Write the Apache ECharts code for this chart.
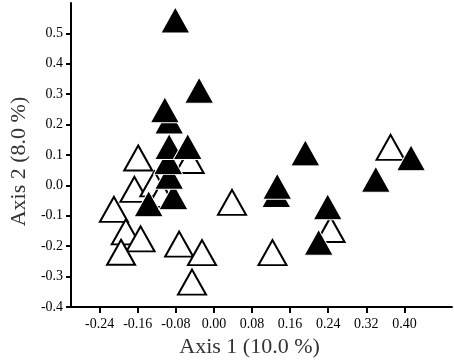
<!DOCTYPE html>
<html>
<head>
<meta charset="utf-8">
<script src="https://cdn.jsdelivr.net/npm/echarts@6/dist/echarts.min.js"></script>
<style>
  html, body { margin: 0; padding: 0; background: #fff; }
  #chart { width: 454px; height: 363px; }
</style>
</head>
<body>
<div id="chart"></div>
<script>
// tick positions shown on the axes
const xTicks = [-0.24, -0.16, -0.08, 0.0, 0.08, 0.16, 0.24, 0.32, 0.4]
const yTicks = [-0.4, -0.3, -0.2, -0.1, 0.0, 0.1, 0.2, 0.3, 0.4, 0.5]

// open triangles [axis1, axis2]
const openPts = [
  [-0.159, 0.09], [-0.167, -0.013], [-0.21, -0.079], [-0.185, -0.153],
  [-0.154, -0.176], [-0.195, -0.22], [-0.073, -0.193], [-0.025, -0.221],
  [-0.046, -0.318], [-0.051, 0.082], [-0.125, 0.005], [-0.11, -0.03],
  [0.038, -0.056], [0.123, -0.221], [0.245, -0.145], [0.371, 0.125],
]

// filled triangles, lowest first so upper ones sit on top
const filledPts = [
  [0.22, -0.187], [0.239, -0.07], [-0.137, -0.06], [-0.085, -0.037],
  [0.131, -0.03], [0.133, -0.003], [0.34, 0.02], [-0.094, 0.03],
  [-0.096, 0.079], [0.414, 0.091], [0.192, 0.107], [-0.094, 0.128],
  [-0.055, 0.128], [-0.094, 0.212], [-0.103, 0.249], [-0.031, 0.313],
  [-0.081, 0.544],
]

const chart = echarts.init(document.getElementById('chart'), null, { renderer: 'canvas' })

const font = 'Liberation Serif'

const option = {
  animation: false,
  backgroundColor: '#fff',
  grid: {
    left: 62,
    right: 2,
    top: 3,
    bottom: 54,
  },
  xAxis: {
    type: 'value',
    min: -0.3,
    max: 0.5,
    name: 'Axis 1 (10.0 %)',
    nameLocation: 'middle',
    nameGap: 29,
    nameTextStyle: {
      fontFamily: font,
      fontSize: 22,
      color: '#333',
      padding: [0, 24, 0, 0],
    },
    axisLine: { onZero: false, lineStyle: { color: '#000', width: 2 } },
    axisTick: {
      show: true,
      length: 6,
      customValues: xTicks,
      lineStyle: { color: '#000', width: 2 },
    },
    axisLabel: {
      customValues: xTicks,
      margin: 10,
      fontFamily: font,
      fontSize: 14,
      color: '#000',
      formatter: (v) => v.toFixed(2),
    },
    splitLine: { show: false },
  },
  yAxis: {
    type: 'value',
    min: -0.4,
    max: 0.6,
    name: 'Axis 2 (8.0 %)',
    nameLocation: 'middle',
    nameGap: 38,
    nameTextStyle: {
      fontFamily: font,
      fontSize: 22,
      color: '#333',
      padding: [0, 13, 0, 0],
    },
    axisLine: { show: true, onZero: false, lineStyle: { color: '#000', width: 2 } },
    axisTick: {
      show: true,
      length: 5,
      customValues: yTicks,
      lineStyle: { color: '#000', width: 2 },
    },
    axisLabel: {
      customValues: yTicks,
      margin: 8,
      fontFamily: font,
      fontSize: 14,
      color: '#000',
      formatter: (v) => v.toFixed(1),
    },
    splitLine: { show: false },
  },
  series: [
    {
      name: 'open',
      type: 'scatter',
      symbol: 'triangle',
      symbolSize: [28, 25],
      itemStyle: {
        color: '#fff',
        borderColor: '#000',
        borderWidth: 2,
        opacity: 1,
      },
      data: openPts,
      z: 2,
    },
    {
      name: 'filled',
      type: 'scatter',
      symbol: 'triangle',
      symbolSize: [29, 26],
      itemStyle: {
        color: '#000',
        borderColor: '#fff',
        borderWidth: 1,
        opacity: 1,
      },
      data: filledPts,
      z: 3,
    },
  ],
}

chart.setOption(option)
</script>
</body>
</html>
